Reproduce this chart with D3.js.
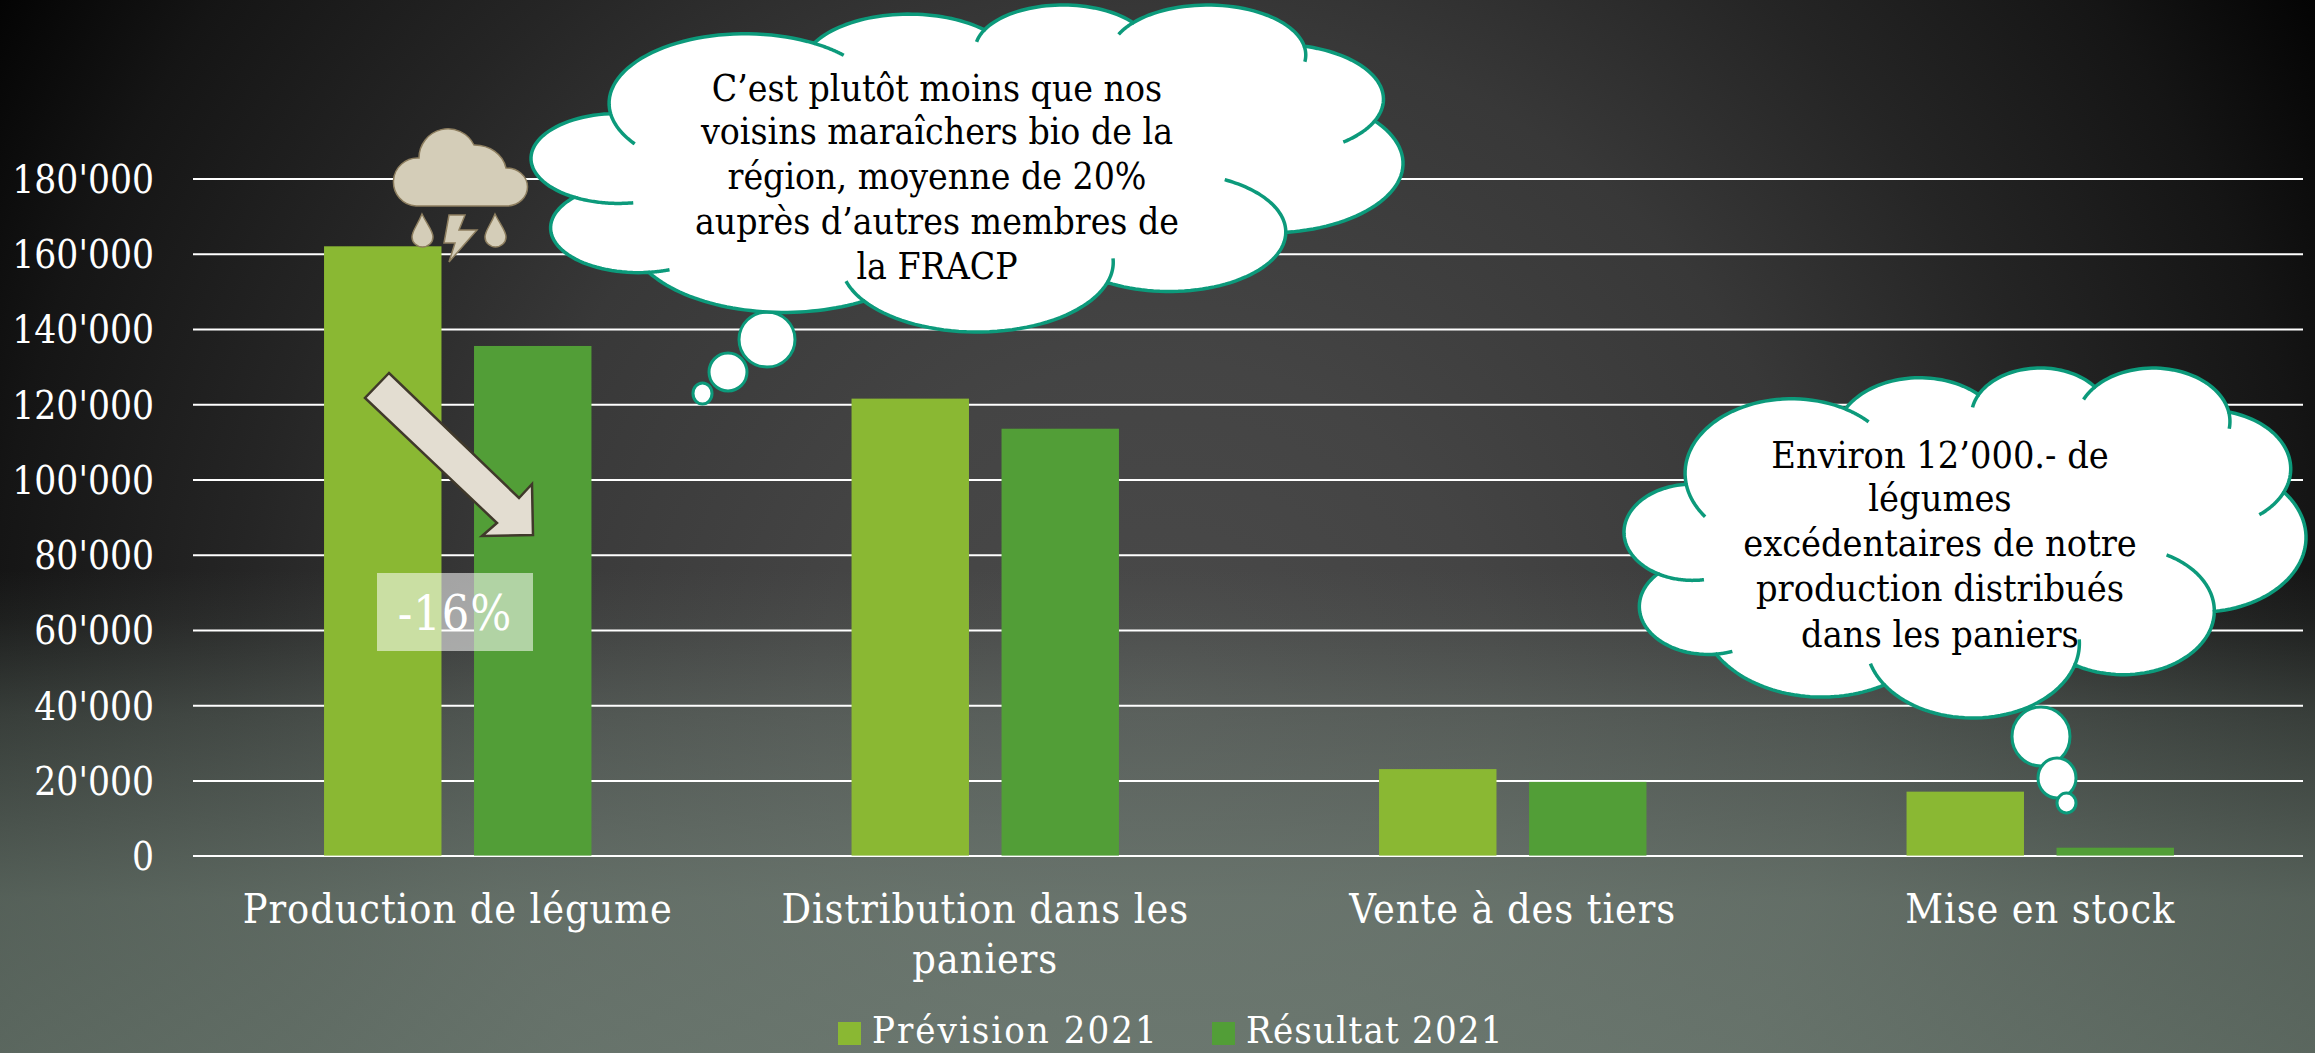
<!DOCTYPE html>
<html>
<head>
<meta charset="utf-8">
<script src="https://cdn.jsdelivr.net/npm/d3@7"></script>
<style>
  html, body { margin: 0; padding: 0; background: #000; overflow: hidden; }
  svg { display: block; }
  text { font-family: "DejaVu Serif", serif; font-stretch: condensed; }
</style>
</head>
<body>
<div id="my_dataviz"></div>
<script>
// chart values
const categories = ["Production de légume", "Distribution dans les paniers", "Vente à des tiers", "Mise en stock"];
const prevision2021 = [162000, 121500, 23000, 17000];
const resultat2021 = [135500, 113500, 19600, 2100];
const seriesNames = ["Prévision 2021", "Résultat 2021"];
const seriesColors = ["#8AB833", "#529E37"];
const yTicks = [0, 20000, 40000, 60000, 80000, 100000, 120000, 140000, 160000, 180000];
const changeLabel = "-16%";
const noteOne = ["C’est plutôt moins que nos", "voisins maraîchers bio de la", "région, moyenne de 20%", "auprès d’autres membres de", "la FRACP"];
const noteTwo = ["Environ 12’000.- de", "légumes", "excédentaires de notre", "production distribués", "dans les paniers"];

const width = 2315;
const height = 1053;

const svg = d3.select("#my_dataviz")
  .append("svg")
  .attr("width", width)
  .attr("height", height);

const defs = svg.append("defs");

// background: dark radial base, then a grey green wash over the lower part
const base = defs.append("radialGradient").attr("id", "base")
  .attr("gradientUnits", "userSpaceOnUse")
  .attr("cx", width / 2).attr("cy", 700).attr("r", 1360);
[[0, "#4a4a4a"], [0.25, "#444444"], [0.5, "#383838"], [0.68, "#252525"], [0.86, "#151515"], [1, "#030303"]]
  .forEach(s => base.append("stop").attr("offset", s[0]).attr("stop-color", s[1]));

const wash = defs.append("linearGradient").attr("id", "wash")
  .attr("gradientUnits", "userSpaceOnUse")
  .attr("x1", 0).attr("y1", 570).attr("x2", 0).attr("y2", 1053);
[[0, 0], [0.1, 0.08], [0.3, 0.33], [0.68, 0.62], [1, 0.68]]
  .forEach(s => wash.append("stop").attr("offset", s[0]).attr("stop-color", "#7d8f83").attr("stop-opacity", s[1]));

svg.append("rect").attr("width", width).attr("height", height).attr("fill", "url(#base)");
svg.append("rect").attr("width", width).attr("height", height).attr("fill", "url(#wash)");

// scales
const margin = { left: 193, right: 12, top: 178.6, bottom: 197.4 };

const x0 = d3.scaleBand()
  .domain(categories)
  .range([margin.left + 1, width - margin.right + 1]);

const x1 = d3.scaleBand()
  .domain(seriesNames)
  .range([0, x0.bandwidth()])
  .paddingInner(0.217)
  .paddingOuter(0.867);

const y = d3.scaleLinear()
  .domain([0, 180000])
  .range([height - margin.bottom, margin.top]);

const swiss = d3.formatLocale({ decimal: ".", thousands: "'", grouping: [3], currency: ["", ""] });

// y axis and gridlines
const yAxis = svg.append("g")
  .attr("transform", `translate(${margin.left},0)`)
  .call(d3.axisLeft(y)
    .tickValues(yTicks)
    .tickSize(-(width - margin.left - margin.right))
    .tickPadding(39)
    .tickFormat(swiss.format(",")));
yAxis.select(".domain").remove();
yAxis.selectAll("line").attr("stroke", "#fff").attr("stroke-width", 2);
yAxis.selectAll("text").attr("fill", "#fff").attr("dy", "0.36em").style("font-size", "38.5px");

// bars
const series = [prevision2021, resultat2021];
svg.append("g")
  .selectAll("g")
  .data(series)
  .join("g")
  .attr("fill", (d, i) => seriesColors[i])
  .selectAll("rect")
  .data((d, i) => d.map((v, j) => ({ cat: categories[j], s: seriesNames[i], v: v })))
  .join("rect")
  .attr("x", d => x0(d.cat) + x1(d.s))
  .attr("y", d => y(d.v))
  .attr("width", x1.bandwidth())
  .attr("height", d => y(0) - y(d.v));

// category labels, wrapped on a fixed width
const xAxis = svg.append("g")
  .attr("transform", `translate(0,${y(0)})`)
  .call(d3.axisBottom(x0).tickSize(0).tickPadding(38));
xAxis.select(".domain").remove();
xAxis.selectAll("text")
  .attr("fill", "#fff")
  .style("font-size", "41px")
  .style("letter-spacing", "0.9px")
  .call(wrap, 445);

function wrap(selection, maxWidth) {
  selection.each(function() {
    const text = d3.select(this);
    const words = text.text().split(" ");
    text.text(null);
    let line = [];
    let tspan = text.append("tspan").attr("x", 0).attr("dy", "0.71em");
    words.forEach(w => {
      line.push(w);
      tspan.text(line.join(" "));
      if (tspan.node().getComputedTextLength() > maxWidth) {
        line.pop();
        tspan.text(line.join(" "));
        line = [w];
        tspan = text.append("tspan").attr("x", 0).attr("dy", "50px").text(w);
      }
    });
  });
}

// legend
const legendX = [838, 1212];
const legend = svg.append("g")
  .selectAll("g")
  .data(seriesNames)
  .join("g")
  .attr("transform", (d, i) => `translate(${legendX[i]},1022)`);
legend.append("rect")
  .attr("width", 23).attr("height", 23)
  .attr("fill", (d, i) => seriesColors[i]);
legend.append("text")
  .attr("x", 34).attr("y", 21)
  .attr("fill", "#fff")
  .style("font-size", "38px")
  .style("letter-spacing", (d, i) => i ? "1.2px" : "2px")
  .text(d => d);

// storm icon above the first bar
const icon = svg.append("g").attr("fill", "#d4cdb8").attr("stroke", "#8d7e5f").attr("stroke-width", 1.5);
icon.append("path").attr("d", "M416 206 A24 24 0 0 1 419 158 A29 29 0 0 1 474 145 A32 28 0 0 1 506 168 A21 19 0 0 1 507 206 Z");
icon.append("path").attr("d", "M422 214 C428 226 433 231 433 237 A10.5 10 0 0 1 412 237 C412 231 417 226 422 214 Z");
icon.append("path").attr("d", "M495 214 C501 226 506 231 506 237 A10.5 10 0 0 1 485 237 C485 231 490 226 495 214 Z");
icon.append("path").attr("d", "M449 215 L465 215 L459 230 L477 230 L449 262 L455 243 L444 243 Z");

// arrow between the two first bars
svg.append("path")
  .attr("d", "M389 373 L365 398 L497 523 L482 536 L533 535 L532 484 L519 498 Z")
  .attr("fill", "#e3ddd1")
  .attr("stroke", "#40392b")
  .attr("stroke-width", 2.5);

// change label
svg.append("rect")
  .attr("x", 377).attr("y", 573).attr("width", 156).attr("height", 78)
  .attr("fill", "#fff").attr("fill-opacity", 0.55);
svg.append("text")
  .attr("x", 455).attr("y", 630)
  .attr("text-anchor", "middle")
  .attr("fill", "#fff")
  .style("font-size", "48px")
  .style("letter-spacing", "1px")
  .text(changeLabel);

// office style cloud outline, 43200 unit box
const cloudStart = [3900, 14370];
const cloudLobes = [
  [6753, 9190, -11429249, 7426832],
  [5333, 7267, -8646143, 5396714],
  [4365, 5945, -8748475, 5983381],
  [4857, 6595, -7859164, 7034504],
  [5333, 7273, -4722533, 6541615],
  [6775, 9220, -2776035, 7816140],
  [5785, 7867, 37501, 6842000],
  [6752, 9215, 1347096, 6910353],
  [7720, 10543, 3974558, 4542661],
  [4360, 5918, -16496525, 8804134],
  [4345, 5945, -14809710, 9151131]
];
// how far each lobe runs on inside the cloud, degrees before and after
const cloudTicks = [[28, 16], [0, 0], [16, 0], [16, 18], [0, 28], [0, 0], [62, 0], [20, 18], [0, 0], [14, 0], [40, 0]];

function lobeGeometry() {
  let px = cloudStart[0], py = cloudStart[1];
  return cloudLobes.map(l => {
    const [wR, hR, st, sw] = l;
    const a = st / 60000 * Math.PI / 180;
    const b = (st + sw) / 60000 * Math.PI / 180;
    const t1 = Math.atan2(wR * Math.sin(a), hR * Math.cos(a));
    let t2 = Math.atan2(wR * Math.sin(b), hR * Math.cos(b));
    while (t2 < t1) t2 += 2 * Math.PI;
    const cx = px - wR * Math.cos(t1);
    const cy = py - hR * Math.sin(t1);
    px = cx + wR * Math.cos(t2);
    py = cy + hR * Math.sin(t2);
    return { cx, cy, wR, hR, t1, t2 };
  });
}

function arcPoints(g, from, to) {
  return d3.range(0, 41).map(i => {
    const t = from + (to - from) * i / 40;
    return [g.cx + g.wR * Math.cos(t), g.cy + g.hR * Math.sin(t)];
  });
}

function drawCloud(box, bubbles, lines, textX, baselines, fontSize) {
  const g = svg.append("g");
  const teal = "#0c9a7b";

  bubbles.forEach(b => {
    g.append("ellipse")
      .attr("cx", (b[0] + b[1]) / 2).attr("cy", (b[2] + b[3]) / 2)
      .attr("rx", (b[1] - b[0]) / 2).attr("ry", (b[3] - b[2]) / 2)
      .attr("fill", "#fff").attr("stroke", teal).attr("stroke-width", 3);
  });

  const lobes = lobeGeometry();
  const outline = lobes.flatMap(l => arcPoints(l, l.t1, l.t2));
  const sx = d3.scaleLinear().domain(d3.extent(outline, p => p[0])).range([box[0], box[1]]);
  const sy = d3.scaleLinear().domain(d3.extent(outline, p => p[1])).range([box[2], box[3]]);
  const line = d3.line().x(p => sx(p[0])).y(p => sy(p[1]));

  g.append("path")
    .attr("d", line(outline) + "Z")
    .attr("fill", "#fff").attr("stroke", teal).attr("stroke-width", 3.5);

  lobes.forEach((l, i) => {
    const [before, after] = cloudTicks[i];
    if (before) g.append("path").attr("d", line(arcPoints(l, l.t1 - before * Math.PI / 180, l.t1)))
      .attr("fill", "none").attr("stroke", teal).attr("stroke-width", 3.5);
    if (after) g.append("path").attr("d", line(arcPoints(l, l.t2, l.t2 + after * Math.PI / 180)))
      .attr("fill", "none").attr("stroke", teal).attr("stroke-width", 3.5);
  });

  g.selectAll("text.note")
    .data(lines)
    .join("text")
    .attr("class", "note")
    .attr("x", textX)
    .attr("y", (d, i) => baselines[i])
    .attr("text-anchor", "middle")
    .attr("fill", "#000")
    .style("font-size", fontSize + "px")
    .text(d => d);
}

drawCloud([531, 1403, 5, 332],
  [[739, 795, 312, 367], [709, 747, 353, 391], [693, 712, 383, 404]],
  noteOne, 937, [101, 144, 189, 234, 279], 37);

drawCloud([1624, 2306, 368, 718],
  [[2012, 2070, 707, 766], [2038, 2076, 758, 798], [2057, 2076, 793, 813]],
  noteTwo, 1940, [468, 511, 556, 601, 647], 37.5);
</script>
</body>
</html>
